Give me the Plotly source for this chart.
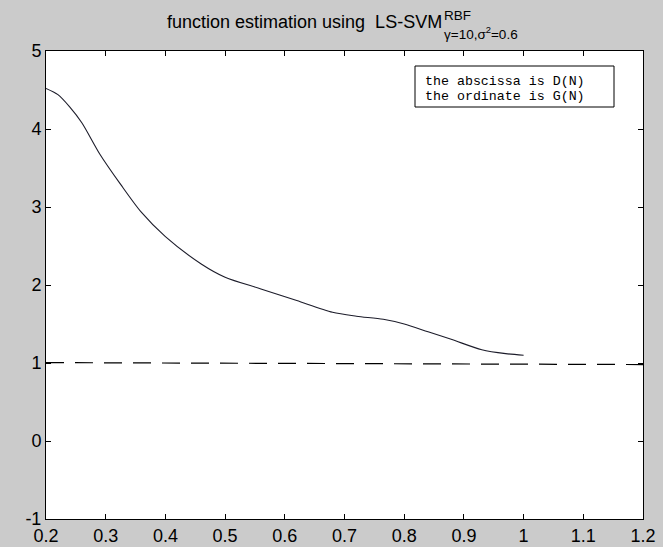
import plotly.graph_objects as go

# Estimated LS-SVM function curve
curve_x = [0.2, 0.22, 0.24, 0.26, 0.29, 0.325, 0.36, 0.40, 0.46, 0.50, 0.56,
           0.62, 0.68, 0.72, 0.765, 0.80, 0.84, 0.88, 0.93, 0.97, 1.0]
curve_y = [4.52, 4.44, 4.28, 4.08, 3.68, 3.29, 2.93, 2.62, 2.27, 2.10, 1.95,
           1.80, 1.65, 1.60, 1.56, 1.50, 1.40, 1.30, 1.17, 1.12, 1.10]

# Dashed reference line
dash_x = [0.2, 0.95, 1.2]
dash_y = [1.005, 0.99, 0.98]

x_ticks = [0.2, 0.3, 0.4, 0.5, 0.6, 0.7, 0.8, 0.9, 1.0, 1.1, 1.2]
x_tick_labels = ["0.2", "0.3", "0.4", "0.5", "0.6", "0.7", "0.8", "0.9", "1", "1.1", "1.2"]
y_ticks = [-1, 0, 1, 2, 3, 4, 5]
y_tick_labels = ["-1", "0", "1", "2", "3", "4", "5"]

legend_lines = ["the abscissa is D(N)", "the ordinate is G(N)"]

fig = go.Figure()
fig.add_trace(go.Scatter(x=dash_x, y=dash_y, mode="lines",
                         line=dict(color="black", width=1.2, dash="18px,11px"),
                         showlegend=False, hoverinfo="skip"))
fig.add_trace(go.Scatter(x=curve_x, y=curve_y, mode="lines",
                         line=dict(color="#1c1c2a", width=1.1, shape="spline", smoothing=0.8),
                         showlegend=False))

axis_common = dict(showline=True, linecolor="black", linewidth=1, mirror="ticks",
                   ticks="inside", ticklen=5, tickcolor="black", tickwidth=1,
                   showgrid=False, zeroline=False, automargin=False,
                   tickfont=dict(family="Liberation Sans, Arial, sans-serif", size=18, color="black"))

fig.update_xaxes(range=[0.2, 1.2], tickvals=x_ticks, ticktext=x_tick_labels, **axis_common)
fig.update_yaxes(range=[-1, 5], tickvals=y_ticks, ticktext=y_tick_labels, **axis_common)

W, H = 663, 547
L, R, T, B = 46, 20, 51, 28
pw, ph = W - L - R, H - T - B

def px(xpix):
    return (xpix - L) / pw

def py(ypix):
    return (H - B - ypix) / ph

title_font = "Liberation Sans, Arial, sans-serif"
ann = [
    dict(text="function estimation using  LS-SVM", x=px(443.5), y=py(21.5),
         xanchor="right", yanchor="middle", font=dict(family=title_font, size=18, color="black")),
    dict(text="RBF", x=px(442), y=py(15), xanchor="left", yanchor="middle",
         font=dict(family=title_font, size=13.5, color="black")),
    dict(text="γ=10,σ<sup>2</sup>=0.6", x=px(442), y=py(33), xanchor="left", yanchor="middle",
         font=dict(family=title_font, size=13.5, color="black")),
    dict(text=legend_lines[0], x=px(423), y=py(81.7), xanchor="left", yanchor="middle",
         font=dict(family="Liberation Mono, Courier New, monospace", size=13.3, color="black")),
    dict(text=legend_lines[1], x=px(423), y=py(96.7), xanchor="left", yanchor="middle",
         font=dict(family="Liberation Mono, Courier New, monospace", size=13.3, color="black")),
]
for a in ann:
    a.update(xref="paper", yref="paper", showarrow=False)

fig.update_layout(
    width=W, height=H,
    margin=dict(l=L, r=R, t=T, b=B, pad=0),
    paper_bgcolor="#cbcbcb", plot_bgcolor="white",
    annotations=ann,
    shapes=[dict(type="rect", xref="paper", yref="paper",
                 x0=px(415), x1=px(614), y0=py(107), y1=py(66),
                 line=dict(color="black", width=1), fillcolor="rgba(0,0,0,0)")],
    showlegend=False,
)

fig.write_html("out.html")
